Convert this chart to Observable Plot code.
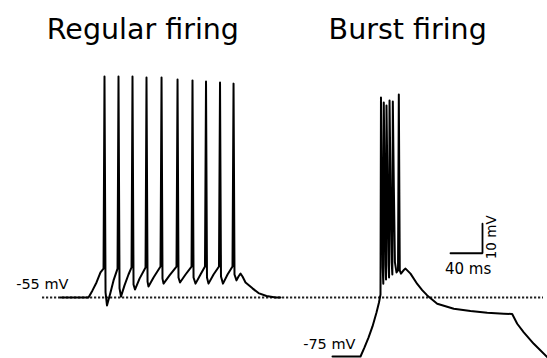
<!DOCTYPE html>
<html><head><meta charset="utf-8">
<script src="https://cdn.jsdelivr.net/npm/d3@7"></script>
<script src="https://cdn.jsdelivr.net/npm/@observablehq/plot@0.6"></script>
<style>body{margin:0;background:#fff}</style>
</head><body><div id="chart"></div>
<script>
// Regular firing trace: time (ms), membrane potential (mV)
const regularT = [25,60,65,70,75,78.8,80,81.3,83.1,87.5,91.3,96.3,97.5,98.8,100.6,105,110,113.8,115,116.3,118.1,123.8,131.3,132.5,133.8,135,141.3,150,151.3,152.5,153.8,161.3,170,171.3,172.5,174.4,181.3,188.8,190,191.3,193.8,200,205.6,206.9,208.1,210,216.3,223.1,224.4,225.6,228.1,233.8,240,241.3,242.5,245,247.5,250,252.5,256.3,265,272.5,282.5,293.8,300];
const regularV = [-55,-55,-52.6,-49.9,-46.5,-45.2,19.9,-53.3,-57.7,-53.3,-49.2,-45.2,19.9,-51.9,-54.7,-50.9,-47.2,-44.8,19.9,-50.6,-52.3,-48.6,-44.8,19.6,-49.6,-51.3,-48.2,-44.5,19.6,-48.6,-50.3,-47.5,-44.5,18.9,-48.2,-49.9,-47.2,-44.5,18.6,-48.2,-50.3,-47.2,-44.5,18.2,-48.2,-50.3,-47.2,-44.5,17.9,-47.9,-50.3,-47.2,-44.5,17.5,-47.2,-49.2,-47.9,-46.9,-47.9,-49.9,-51.9,-53.5,-54.5,-55,-55];
// Burst firing trace
const burstT = [365,400,405,410,415,420,423.1,425,425.6,426.9,427.8,428.5,429.1,430.4,431.3,431.9,432.5,433.8,435,435.7,436.3,437.6,439,439.8,440.4,441.7,443,445,446.9,447.9,449.1,450.6,453.8,456.3,462.5,470.9,477.1,483.4,495.9,516.6,537.5,558.4,579.1,589.6,595.9,604.1,616.6,633.8];
const burstV = [-75,-75,-71.9,-68.6,-64.8,-60.1,-56.7,-54,12.8,-20,-45,-50.3,11.1,-20,-44,-48.9,10.1,-19,-44,-48.2,11.8,-18,-43,-47.2,11.4,-18,-43,-46.5,-45.8,13.8,-45.8,-46.9,-45.8,-45.2,-46.9,-50.4,-52.5,-54.3,-57.1,-58.8,-59.6,-60.2,-60.5,-60.6,-63.9,-66.8,-70.7,-75.3];

const titles = ["Regular firing", "Burst firing"];
const titleT = [128, 459];
const levelLabels = ["-55 mV", "-75 mV"];
const levelLabelT = [35, 393.75];
const levelLabelV = [-52.1, -72.3];
const dottedLevel = [-55];
const dottedSpan = [2.5, 628.75];
const barOriginT = 512.5, barOriginV = -40;
const barMs = 40, barMv = 10;
const barLabels = [`${barMs} ms`, `${barMv} mV`];

const regular = regularT.map((t, i) => ({t, v: regularV[i]}));
const burst = burstT.map((t, i) => ({t, v: burstV[i]}));
const titleData = titles.map((s, i) => ({s, t: titleT[i]}));
const levelData = levelLabels.map((s, i) => ({s, t: levelLabelT[i], v: levelLabelV[i]}));
const bar = [
  {t: barOriginT, v: barOriginV},
  {t: barOriginT + barMs, v: barOriginV},
  {t: barOriginT + barMs, v: barOriginV + barMv}
];

const font = "DejaVu Sans, sans-serif";
const chart = Plot.plot({
  width: 547, height: 358,
  marginTop: 0, marginRight: 0, marginBottom: 0, marginLeft: 0,
  style: {fontFamily: font, background: "#fff", color: "#000"},
  x: {axis: null, domain: [0, 40], range: [40, 72]},
  y: {axis: null, domain: [-75, -55], range: [356, 297]},
  marks: [
    Plot.ruleY(dottedLevel, {x1: dottedSpan[0], x2: dottedSpan[1], stroke: "#222", strokeWidth: 1.8, strokeDasharray: "2.2,1.8"}),
    Plot.line(regular, {x: "t", y: "v", stroke: "#000", strokeWidth: 2}),
    Plot.line(burst, {x: "t", y: "v", stroke: "#000", strokeWidth: 2}),
    Plot.line(bar, {x: "t", y: "v", stroke: "#000", strokeWidth: 1.8, strokeLinejoin: "miter"}),
    Plot.text(titleData, {x: "t", text: "s", frameAnchor: "top", dy: 38, lineAnchor: "bottom", fontSize: 28.5, fill: "#000"}),
    Plot.text(levelData, {x: "t", y: "v", text: "s", textAnchor: "end", lineAnchor: "bottom", fontSize: 14.5, fill: "#000"}),
    Plot.text([barLabels[0]], {x: barOriginT + barMs / 2 + 2, y: barOriginV - 7, text: d => d, lineAnchor: "bottom", fontSize: 15, fill: "#000"}),
    Plot.text([barLabels[1]], {x: barOriginT + barMs + 11.5, y: barOriginV + 5.4, text: d => d, rotate: -90, fontSize: 13.5, fill: "#000"})
  ]
});
document.getElementById("chart").appendChild(chart);
</script>
</body></html>
